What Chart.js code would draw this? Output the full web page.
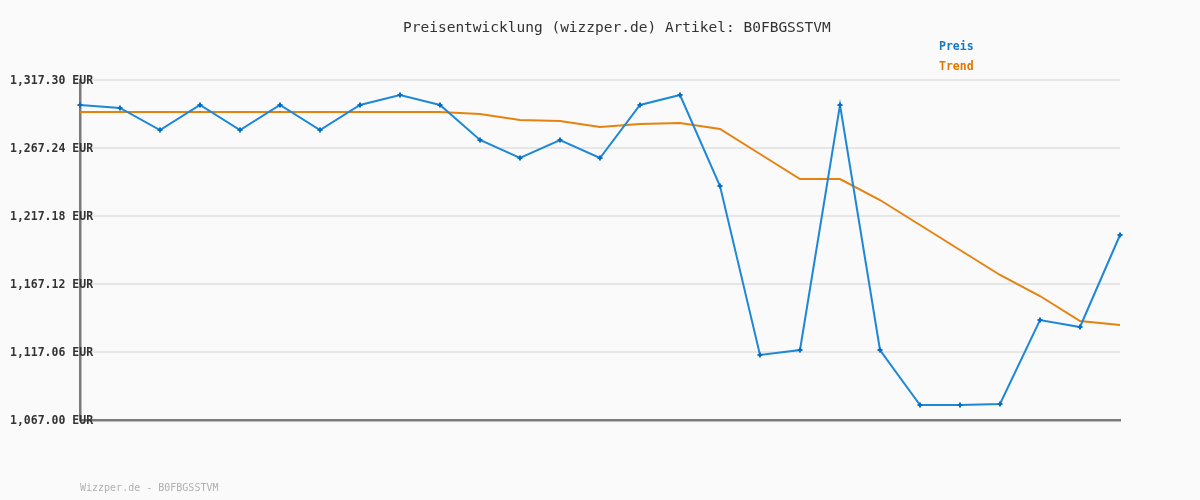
<!DOCTYPE html>
<html>
<head>
<meta charset="utf-8">
<script src="https://cdn.jsdelivr.net/npm/chart.js@4/dist/chart.umd.min.js"></script>
<style>
  html, body { margin: 0; padding: 0; background: #fafafa; }
  #wrap { width: 1200px; height: 500px; position: relative; }
</style>
</head>
<body>
<div id="wrap"><canvas id="myChart" width="1200" height="500"></canvas></div>
<script>
// chart data
const chartTitle = "Preisentwicklung (wizzper.de) Artikel: B0FBGSSTVM";
const footerText = "Wizzper.de - B0FBGSSTVM";

const labels = ["1", "2", "3", "4", "5", "6", "7", "8", "9", "10", "11", "12", "13", "14",
  "15", "16", "17", "18", "19", "20", "21", "22", "23", "24", "25", "26", "27"];

const preis = [1298.90, 1296.69, 1280.49, 1298.90, 1280.49, 1298.90, 1280.49, 1298.90,
  1306.26, 1298.90, 1273.13, 1259.88, 1273.13, 1259.88, 1298.90, 1306.26, 1239.27,
  1114.85, 1118.53, 1298.90, 1118.53, 1078.04, 1078.04, 1078.78, 1140.62, 1135.46, 1203.19];

const trend = [1293.74, 1293.74, 1293.74, 1293.74, 1293.74, 1293.74, 1293.74, 1293.74,
  1293.74, 1293.74, 1292.27, 1287.85, 1287.12, 1282.70, 1284.91, 1285.64, 1281.23,
  1262.82, 1244.42, 1244.42, 1228.96, 1210.56, 1192.15, 1173.75, 1158.29, 1139.88, 1136.94];

const yTicks = [1067.00, 1117.06, 1167.12, 1217.18, 1267.24, 1317.30];

const legendItems = ["Preis", "Trend"];
const legendColors = ["#1a78c2", "#e07800"];

// title, legend and footer text
const textPlugin = {
  id: "textPlugin",
  afterDraw(chart) {
    const ctx = chart.ctx;
    ctx.save();
    ctx.textBaseline = "middle";
    ctx.textAlign = "left";
    ctx.fillStyle = "#333333";
    ctx.font = "14.5px 'DejaVu Sans Mono', monospace";
    ctx.fillText(chartTitle, 403, 28);

    ctx.font = "bold 11.5px 'DejaVu Sans Mono', monospace";
    for (let i = 0; i < legendItems.length; i++) {
      ctx.fillStyle = legendColors[i];
      ctx.fillText(legendItems[i], 939, 47 + i * 20);
    }

    ctx.fillStyle = "#b0b0b0";
    ctx.font = "10px 'DejaVu Sans Mono', monospace";
    ctx.fillText(footerText, 80, 488);
    ctx.restore();
  }
};

const bgPlugin = {
  id: "bgPlugin",
  beforeDraw(chart) {
    const ctx = chart.ctx;
    ctx.save();
    ctx.fillStyle = "#fafafa";
    ctx.fillRect(0, 0, chart.width, chart.height);
    ctx.restore();
  }
};

new Chart("myChart", {
  type: "line",
  data: {
    labels: labels,
    datasets: [
      {
        label: "Preis",
        data: preis,
        borderColor: "#1f88d6",
        borderWidth: 2,
        pointStyle: "cross",
        pointRadius: 2.5,
        pointBorderWidth: 2,
        pointBorderColor: "#0a6fc0",
        pointBackgroundColor: "#0a6fc0",
        tension: 0,
        order: 1
      },
      {
        label: "Trend",
        data: trend,
        borderColor: "#e4830f",
        borderWidth: 2,
        pointRadius: 0,
        tension: 0,
        order: 2
      }
    ]
  },
  options: {
    responsive: false,
    animation: false,
    layout: { padding: { left: 0, right: 80, top: 80, bottom: 80 } },
    plugins: {
      legend: { display: false },
      title: { display: false },
      tooltip: { enabled: false }
    },
    scales: {
      x: {
        offset: false,
        grid: { display: false },
        border: { display: true, color: "#7a7a7a", width: 2.5 },
        ticks: { display: false },
        afterFit: function (scale) { scale.height = 0; }
      },
      y: {
        min: yTicks[0],
        max: yTicks[yTicks.length - 1],
        afterBuildTicks: function (scale) {
          scale.ticks = yTicks.map(v => ({ value: v }));
        },
        afterFit: function (scale) { scale.width = 80; },
        grid: { color: "#e6e6e6", lineWidth: 2, drawTicks: false },
        border: { display: true, color: "#7a7a7a", width: 2.5 },
        ticks: {
          mirror: true,
          padding: -70,
          labelOffset: 1.5,
          color: "#333333",
          font: { family: "'DejaVu Sans Mono', monospace", size: 11.5, weight: "bold" },
          callback: function (value) {
            return value.toLocaleString("en-US", { minimumFractionDigits: 2, maximumFractionDigits: 2 }) + " EUR";
          }
        }
      }
    }
  },
  plugins: [bgPlugin, textPlugin]
});
</script>
</body>
</html>
